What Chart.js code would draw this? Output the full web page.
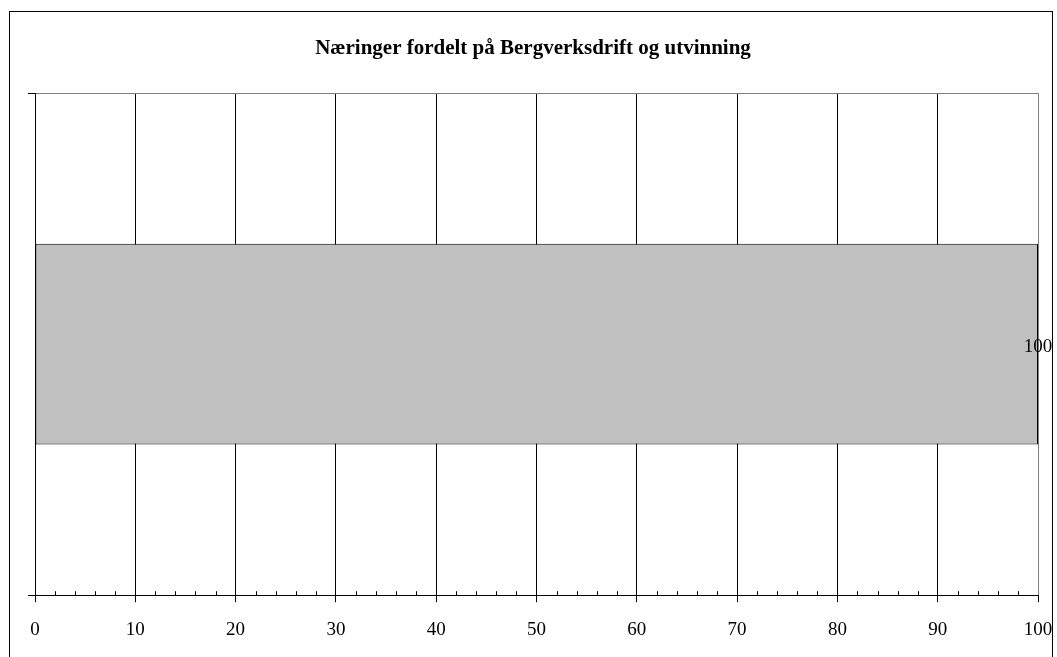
<!DOCTYPE html>
<html>
<head>
<meta charset="utf-8">
<script src="https://cdn.jsdelivr.net/npm/chart.js@4/dist/chart.umd.min.js"></script>
<style>
    html, body { margin: 0; padding: 0; background: #fff; }
    #wrap { position: relative; width: 1057px; height: 657px; overflow: hidden; }
    #frame { position: absolute; left: 9px; top: 11px; width: 1042px; height: 700px; border: 1px solid #000; pointer-events: none; }
</style>
</head>
<body>
<div id="wrap">
    <canvas id="chart" width="1057" height="657"></canvas>
    <div id="frame"></div>
</div>
<script>
const titleText = 'Næringer fordelt på Bergverksdrift og utvinning';
const categories = ['Bergverksdrift og utvinning'];
const values = [100];
const xMin = 0;
const xMax = 100;
const xStep = 10;
const minorStep = 2;

const serif = "'Liberation Serif', 'Times New Roman', serif";

// value labels at the bar ends
const barLabels = {
    id: 'barLabels',
    afterDatasetsDraw(chart) {
        const ctx = chart.ctx;
        const meta = chart.getDatasetMeta(0);
        ctx.save();
        ctx.font = `19px ${serif}`;
        ctx.fillStyle = '#000';
        ctx.textAlign = 'center';
        ctx.textBaseline = 'middle';
        meta.data.forEach((bar, i) => {
            ctx.fillText(String(values[i]), bar.x, bar.y + 3);
        });
        ctx.restore();
    }
};

// small minor ticks on the value axis
const minorTicks = {
    id: 'minorTicks',
    afterDraw(chart) {
        const x = chart.scales.x;
        const ctx = chart.ctx;
        const y0 = chart.chartArea.bottom;
        ctx.save();
        ctx.strokeStyle = '#000';
        ctx.lineWidth = 1;
        ctx.beginPath();
        for (let v = xMin; v <= xMax; v += minorStep) {
            if (v % xStep === 0) continue;
            const px = Math.round(x.getPixelForValue(v)) + 0.5;
            ctx.moveTo(px, y0);
            ctx.lineTo(px, y0 - 4);
        }
        ctx.stroke();
        ctx.restore();
    }
};

new Chart(document.getElementById('chart').getContext('2d'), {
    type: 'bar',
    data: {
        labels: categories,
        datasets: [{
            data: values,
            backgroundColor: '#c0c0c0',
            borderColor: '#000',
            borderWidth: 1,
            borderSkipped: false,
            barPercentage: 0.4,
            categoryPercentage: 1
        }]
    },
    options: {
        indexAxis: 'y',
        responsive: false,
        animation: false,
        layout: { padding: { left: 28, right: 19, top: 0, bottom: 0 } },
        plugins: {
            legend: { display: false },
            tooltip: { enabled: false },
            title: {
                display: true,
                text: titleText,
                color: '#000',
                font: { family: serif, size: 21, weight: 'bold' },
                padding: { top: 36, bottom: 32 }
            }
        },
        scales: {
            x: {
                min: xMin,
                max: xMax,
                afterFit: scale => {
                    // let the last label hang over the plot edge like the original
                    scale.paddingLeft = 0;
                    scale.paddingRight = 0;
                },
                ticks: {
                    stepSize: xStep,
                    color: '#000',
                    font: { family: serif, size: 19 },
                    padding: 16,
                    maxRotation: 0
                },
                grid: {
                    color: c => (c.tick && c.tick.value === xMax) ? '#808080' : '#000',
                    tickColor: '#000',
                    lineWidth: 1,
                    tickLength: 7
                },
                border: { display: true, color: '#000' }
            },
            y: {
                ticks: { display: false },
                grid: {
                    offset: true,
                    color: c => c.index === 0 ? '#808080' : '#000',
                    tickColor: '#000',
                    tickLength: 7
                },
                border: { display: true, color: '#000' }
            }
        }
    },
    plugins: [barLabels, minorTicks]
});
</script>
</body>
</html>
